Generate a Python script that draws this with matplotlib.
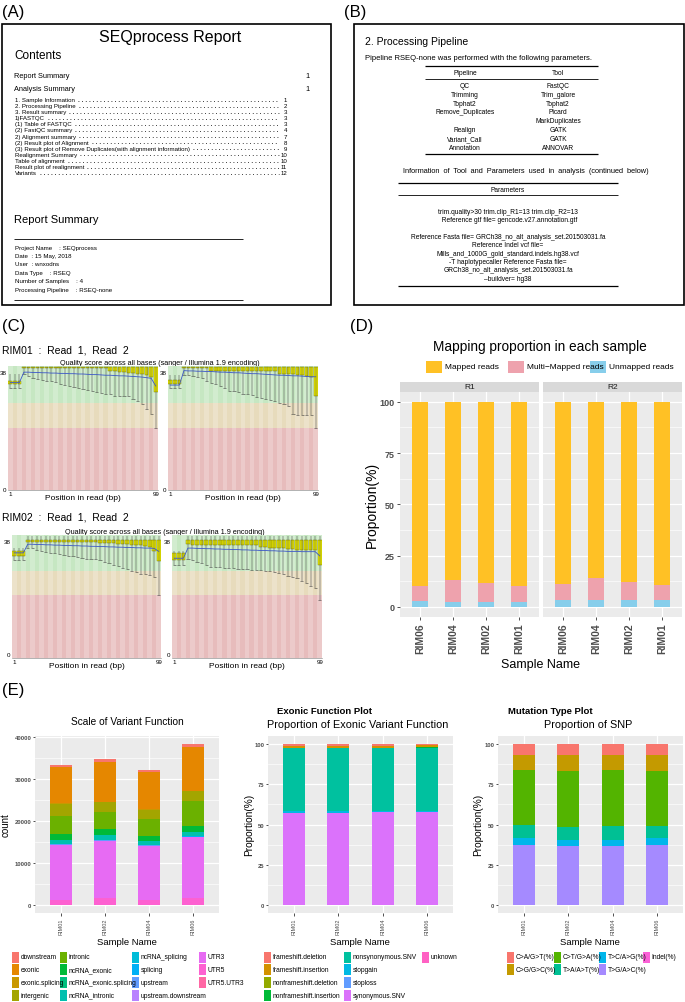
import numpy as np
import matplotlib
matplotlib.use('Agg')
import matplotlib.pyplot as plt
from matplotlib.patches import Rectangle

plt.rcParams['font.family'] = ['Liberation Sans', 'DejaVu Sans']

# ---------------- (A) report page
toc_items = ["1. Sample Information", "2. Processing Pipeline", "3. Result summary", "1)FASTQC",
             "(1) Table of FASTQC", "(2) FastQC summary", "2) Alignment summary",
             "(2) Result plot of Alignment",
             "(3) Result plot of Remove Duplicates(with alignment information)",
             "Realignment Summary", "Table of alignment", "Result plot of realignment", "Variants"]
toc_pages = ["1", "2", "3", "3", "3", "4", "7", "8", "9", "10", "10", "11", "12"]
summary_lines = ["Project Name    : SEQprocess", "Date  : 15 May, 2018", "User  : wnxodns",
                 "Data Type    : RSEQ", "Number of Samples    : 4",
                 "Processing Pipeline    : RSEQ-none"]

# ---------------- (B) pipeline page
pipe_steps = ["QC", "Trimming", "Tophat2", "Remove_Duplicates", "", "Realign", "Variant_Call", "Annotation"]
pipe_tools = ["FastQC", "Trim_galore", "Tophat2", "Picard", "MarkDuplicates", "GATK", "GATK", "ANNOVAR"]
param_lines = ["trim.quality>30 trim.clip_R1=13 trim.clip_R2=13",
               "  Reference gtf file= gencode.v27.annotation.gtf", "",
               "Reference Fasta file= GRCh38_no_alt_analysis_set.201503031.fa",
               "Reference Indel vcf file=",
               "Mills_and_1000G_gold_standard.indels.hg38.vcf",
               "-T haplotypecaller Reference Fasta file=",
               "GRCh38_no_alt_analysis_set.201503031.fa",
               "\u2013buildver= hg38"]

# ---------------- (C) per base quality (33 bins of 3 bp), RIM01 R1/R2, RIM02 R1/R2
q_whisk_lo = [
    [33.0, 33.0, 33.0, 37.3, 36.8, 36.2, 35.8, 35.5, 35.2, 35.0, 34.8, 34.1, 33.8, 33.5, 33.2, 33.0,
     32.5, 32.2, 31.9, 31.6, 31.3, 31.0, 30.9, 30.3, 30.3, 30.3, 30.3, 29.2, 28.5, 27.5, 26.0, 24.4, 20.0],
    [33.0, 33.0, 33.0, 37.2, 37.0, 36.8, 36.5, 36.2, 35.0, 34.5, 34.0, 33.5, 33.0, 32.0, 31.8, 31.5,
     31.0, 30.8, 30.5, 30.0, 29.5, 29.2, 29.0, 28.5, 28.0, 27.5, 27.0, 24.5, 24.2, 24.0, 24.0, 24.0, 20.0],
    [31.5, 31.5, 31.5, 35.8, 35.5, 35.0, 34.6, 34.3, 34.1, 34.0, 33.5, 33.2, 33.0, 32.8, 32.5, 32.3,
     32.1, 32.0, 31.8, 31.7, 31.0, 30.5, 30.0, 29.5, 29.0, 28.5, 28.0, 27.7, 27.0, 26.8, 26.5, 26.0, 19.7],
    [30.0, 30.0, 30.0, 32.0, 31.5, 31.0, 30.5, 30.0, 29.4, 29.3, 29.2, 29.0, 28.9, 28.8, 28.7, 28.6,
     28.5, 28.4, 28.3, 28.3, 28.0, 27.8, 27.5, 27.2, 26.8, 26.4, 26.0, 25.6, 24.4, 23.8, 23.0, 22.2, 18.3],
]
q_box_lo = [
    [34.0, 34.0, 34.0, 39.2, 39.2, 39.2, 39.2, 39.2, 39.2, 39.2, 39.2, 39.2, 39.2, 39.2, 39.2, 39.2,
     39.2, 39.2, 39.2, 39.2, 39.2, 39.2, 38.5, 38.3, 38.0, 38.0, 37.8, 37.6, 37.5, 37.3, 37.0, 36.5, 31.5],
    [34.2, 34.2, 34.2, 39.2, 39.2, 39.2, 39.2, 39.2, 39.2, 38.5, 38.5, 38.5, 38.5, 38.5, 38.5, 38.5,
     38.5, 38.5, 38.5, 38.5, 38.5, 38.5, 38.5, 38.5, 37.5, 37.5, 37.3, 37.3, 37.0, 37.0, 36.8, 36.5, 30.3],
    [33.0, 33.0, 33.0, 37.5, 37.5, 37.5, 37.6, 37.6, 37.6, 37.6, 37.6, 37.6, 37.6, 37.6, 37.6, 37.6,
     37.6, 37.6, 37.6, 37.3, 37.3, 37.2, 37.2, 37.0, 37.0, 37.0, 36.8, 36.8, 36.5, 36.3, 36.0, 34.6, 31.3],
    [31.7, 31.7, 31.7, 37.0, 36.8, 36.8, 36.7, 36.7, 36.7, 36.6, 36.6, 36.6, 36.5, 36.5, 36.5, 36.5,
     36.5, 36.5, 36.5, 36.0, 36.0, 35.8, 35.8, 35.5, 35.5, 35.3, 35.2, 35.0, 35.0, 34.9, 34.9, 34.9, 30.0],
]
q_mean = [
    [34.6, 34.6, 34.6, 38.0, 38.0, 37.9, 37.9, 37.8, 37.8, 37.7, 37.7, 37.6, 37.6, 37.5, 37.5, 37.4,
     37.4, 37.3, 37.2, 37.2, 37.1, 37.0, 37.0, 36.9, 36.8, 36.8, 36.7, 36.6, 36.5, 36.4, 36.2, 36.0, 33.5],
    [33.8, 33.8, 33.8, 38.5, 38.4, 38.4, 38.3, 38.3, 38.2, 38.2, 38.1, 38.0, 38.0, 37.9, 37.8, 37.8,
     37.7, 37.6, 37.5, 37.5, 37.4, 37.3, 37.2, 37.1, 37.0, 37.0, 36.9, 36.8, 36.8, 36.7, 36.6, 36.5, 36.5],
    [34.0, 34.0, 34.0, 36.9, 36.9, 36.8, 36.8, 36.7, 36.7, 36.6, 36.6, 36.5, 36.5, 36.4, 36.4, 36.3,
     36.3, 36.2, 36.2, 36.1, 36.1, 36.0, 36.0, 35.9, 35.9, 35.8, 35.8, 35.7, 35.7, 35.6, 35.6, 35.5, 34.5],
    [32.2, 32.2, 32.2, 35.6, 35.6, 35.5, 35.5, 35.4, 35.4, 35.3, 35.3, 35.2, 35.2, 35.1, 35.1, 35.0,
     35.0, 34.9, 34.9, 34.8, 34.8, 34.7, 34.7, 34.6, 34.6, 34.5, 34.5, 34.5, 34.4, 34.4, 34.4, 34.4, 33.0],
]
q_head_box_hi = [35.2, 35.4, 34.5, 33.9]
q_head_whisk_hi = [37.3, 37.0, 35.5, 34.5]
q_box_top = [39.8, 39.8, 38.3, 38.3]
q_whisk_top = 39.8
q_head_bins = 3

# ---------------- (D) mapping proportion
map_samples = ["RIM06", "RIM04", "RIM02", "RIM01"]
r1_unmapped = [2.8, 2.3, 2.3, 2.5]
r1_multi = [7.4, 10.7, 9.2, 7.7]
r1_mapped = [89.8, 87.0, 88.5, 89.8]
r2_unmapped = [3.5, 3.2, 3.2, 3.2]
r2_multi = [7.5, 10.6, 9.1, 7.6]
r2_mapped = [89.0, 86.2, 87.7, 89.2]

# ---------------- (E) variant plots
var_samples = ["RIM01", "RIM02", "RIM04", "RIM06"]
func_names = ["downstream", "exonic", "exonic.splicing", "intergenic", "intronic", "ncRNA_exonic",
              "ncRNA_exonic.splicing", "ncRNA_intronic", "ncRNA_splicing", "splicing", "upstream",
              "upstream.downstream", "UTR3", "UTR5", "UTR5.UTR3"]
func_counts = [
    [640, 630, 640, 800],
    [8600, 9640, 8840, 10420],
    [60, 60, 60, 70],
    [3020, 2230, 2230, 2230],
    [4220, 4060, 4130, 6040],
    [1340, 1490, 1030, 1340],
    [10, 10, 10, 10],
    [970, 1130, 1000, 1110],
    [30, 30, 30, 30],
    [60, 60, 50, 70],
    [120, 130, 110, 140],
    [10, 10, 10, 10],
    [13200, 13750, 12960, 14550],
    [1190, 1590, 1190, 1590],
    [5, 5, 5, 5],
]
exo_names = ["frameshift.deletion", "frameshift.insertion", "nonframeshift.deletion",
             "nonframeshift.insertion", "nonsynonymous.SNV", "stopgain", "stoploss",
             "synonymous.SNV", "unknown"]
exo_pct = [
    [1.0, 1.0, 1.0, 0.8],
    [1.3, 1.3, 1.2, 0.9],
    [0.2, 0.2, 0.2, 0.3],
    [0.1, 0.1, 0.1, 0.3],
    [39.3, 39.2, 39.0, 39.2],
    [0.8, 0.8, 0.8, 0.7],
    [0.1, 0.1, 0.1, 0.1],
    [57.2, 57.3, 57.6, 57.7],
    [0.0, 0.0, 0.0, 0.0],
]
snp_names = ["C>A/G>T(%)", "C>G/G>C(%)", "C>T/G>A(%)", "T>A/A>T(%)", "T>C/A>G(%)", "T>G/A>C(%)", "Indel(%)"]
snp_pct = [
    [6.7, 7.0, 6.7, 6.7],
    [9.3, 9.7, 9.3, 9.8],
    [34.0, 34.8, 35.0, 34.5],
    [8.5, 8.0, 8.5, 7.5],
    [4.0, 4.0, 4.0, 4.0],
    [37.5, 36.5, 36.5, 37.5],
    [0.0, 0.0, 0.0, 0.0],
]

hue15 = ["#F8766D", "#E58700", "#C99800", "#A3A500", "#6BB100", "#00BA38", "#00BF7D", "#00C0AF",
         "#00BCD8", "#00B0F6", "#619CFF", "#B983FF", "#E76BF3", "#FD61D1", "#FF67A4"]
hue9 = ["#F8766D", "#D39200", "#93AA00", "#00BA38", "#00C19F", "#00B9E3", "#619CFF", "#DB72FB", "#FF61C3"]
hue7 = ["#F8766D", "#C49A00", "#53B400", "#00C094", "#00B6EB", "#A58AFF", "#FB61D7"]
map_colors = {"Mapped reads": "#FFC125", "Multi\u2212Mapped reads": "#EEA2AD", "Unmapped reads": "#87CEEB"}

W, H = 685, 1003
fig = plt.figure(figsize=(W / 100, H / 100), dpi=100)
bg = fig.add_axes([0, 0, 1, 1])
bg.set_xlim(0, W)
bg.set_ylim(H, 0)
bg.axis('off')


def px_axes(x0, y0, x1, y1):
    return fig.add_axes([x0 / W, 1 - y1 / H, (x1 - x0) / W, (y1 - y0) / H])


def txt(x, y, s, size, **kw):
    kw.setdefault('va', 'center')
    return bg.text(x, y, s, fontsize=size, **kw)


def hline(x0, x1, y, lw):
    bg.plot([x0, x1], [y, y], color='black', lw=lw, solid_capstyle='butt')


# panel letters
for lab, x, y in [("(A)", 2, 12), ("(B)", 344, 12), ("(C)", 2, 326), ("(D)", 350, 326), ("(E)", 2, 690)]:
    txt(x, y, lab, 12)

# ---- (A)
bg.add_patch(Rectangle((2.5, 24.5), 329, 281, fill=False, lw=1.2, ec='black'))
txt(170, 37, "SEQprocess Report", 11.5, ha='center')
txt(14, 56, "Contents", 8.5)
txt(14, 76, "Report Summary", 5.3)
txt(305, 76, "1", 5.3)
txt(14, 89, "Analysis Summary", 5.3)
txt(305, 89, "1", 5.3)
toc_y = np.linspace(100.5, 173.5, len(toc_items))
renderer = fig.canvas.get_renderer()
inv = bg.transData.inverted()
for name, page, y in zip(toc_items, toc_pages, toc_y):
    t = txt(15, y, name, 4.4)
    txt(287, y, page, 4.4, ha='right')
    bb = t.get_window_extent(renderer=renderer)
    xe = inv.transform((bb.x1, bb.y0))[0]
    bg.plot([xe + 3, 279], [y + 1.2, y + 1.2], color='black', lw=0.6, ls=(0, (1, 3.4)))
txt(14, 220, "Report Summary", 8)
hline(14, 243, 239.5, 0.6)
for i, line in enumerate(summary_lines):
    txt(15, 248 + 8.4 * i, line, 4.4)
hline(14, 243, 300.5, 0.6)

# ---- (B)
bg.add_patch(Rectangle((354, 24.5), 330, 281, fill=False, lw=1.2, ec='black'))
txt(365, 42, "2. Processing Pipeline", 7.5)
txt(365, 58, "Pipeline RSEQ-none was performed with the following parameters.", 5.5)
hline(425, 598, 66.7, 0.9)
txt(465, 73, "Pipeline", 4.8, ha='center')
txt(558, 73, "Tool", 4.8, ha='center')
hline(425, 598, 80, 0.6)
for i, (st, tl) in enumerate(zip(pipe_steps, pipe_tools)):
    y = 86.5 + 8.8 * i
    txt(465, y, st, 4.8, ha='center')
    txt(558, y, tl, 4.8, ha='center')
hline(425, 598, 155, 0.9)
txt(526, 171, "Information  of  Tool  and  Parameters  used  in  analysis  (continued  below)", 5.3, ha='center')
hline(398, 618, 184, 0.9)
txt(508, 190, "Parameters", 4.8, ha='center')
hline(398, 618, 196, 0.6)
for i, line in enumerate(param_lines):
    txt(508, 212 + 8.4 * i, line, 4.8, ha='center')
hline(398, 618, 287, 0.9)

# ---- (C)


def fastqc_panel(box, ymin, k):
    ax = px_axes(*box)
    wlo = np.array(q_whisk_lo[k])
    blo = np.array(q_box_lo[k])
    mean = np.array(q_mean[k])
    n = len(wlo)
    pos = np.arange(1, n + 1)
    bhi = np.where(pos <= q_head_bins, q_head_box_hi[k], q_box_top[k])
    whi = np.where(pos <= q_head_bins, q_head_whisk_hi[k], q_whisk_top)
    ax.axhspan(28, 40, color='#C6E7C2', lw=0)
    ax.axhspan(20, 28, color='#E7DBBC', lw=0)
    ax.axhspan(ymin, 20, color='#E7BCBC', lw=0)
    for p in pos[::2]:
        ax.axvspan(p - 0.5, p + 0.5, color='white', alpha=0.22, lw=0)
    ax.vlines(pos, wlo, whi, color='#3C3C3C', lw=0.35)
    ax.hlines(wlo, pos - 0.35, pos + 0.35, color='#3C3C3C', lw=0.4)
    ax.bar(pos, bhi - blo, bottom=blo, width=0.8, color='#EEEE00', edgecolor='#6A6A00', lw=0.3)
    ax.plot(pos, mean, color='#3A56C8', lw=0.6)
    ax.set_xlim(0.5, n + 0.5)
    ax.set_ylim(ymin, 40)
    ax.set_yticks([0, 38])
    ax.set_yticklabels(['0', '38'], fontsize=4.5)
    ax.set_xticks([1, n])
    ax.set_xticklabels(['1', '99'], fontsize=4.5)
    ax.tick_params(length=0, pad=1)
    for s in ['top', 'right', 'left']:
        ax.spines[s].set_visible(False)
    ax.spines['bottom'].set_linewidth(0.4)
    ax.spines['bottom'].set_color('#777777')
    ax.set_xlabel("Position in read (bp)", fontsize=6, labelpad=-2)
    return ax


txt(2, 350, "RIM01  :  Read  1,  Read  2", 7.5)
txt(160, 363.5, "Quality score across all bases (sanger / Illumina 1.9 encoding)", 5.2, ha='center')
fastqc_panel((8, 367, 158, 491), -0.3, 0)
fastqc_panel((168, 367, 318, 491), -0.3, 1)
txt(2, 518, "RIM02  :  Read  1,  Read  2", 7.5)
txt(165, 532, "Quality score across all bases (sanger / Illumina 1.9 encoding)", 5.2, ha='center')
fastqc_panel((12, 536, 161, 659), -1.3, 2)
fastqc_panel((172, 536, 322, 659), -1.3, 3)

# ---- (D)


def gg_style(ax, label_size, tick_len):
    ax.set_facecolor('#EBEBEB')
    for s in ax.spines.values():
        s.set_visible(False)
    ax.grid(True, which='major', color='white', lw=0.9)
    ax.grid(True, which='minor', axis='y', color='white', lw=0.45)
    ax.set_axisbelow(True)
    ax.tick_params(which='major', length=tick_len, width=0.6, color='#333333', pad=1.2,
                   labelsize=label_size, labelcolor='#4D4D4D')
    ax.tick_params(which='minor', length=0)


txt(540, 347, "Mapping proportion in each sample", 9.8, ha='center')
leg_x = [426, 508, 590]
for (name, col), lx in zip(map_colors.items(), leg_x):
    bg.add_patch(Rectangle((lx, 362), 16, 11.5, color=col, lw=0))
    txt(lx + 19, 367.8, name, 6)

xs = np.arange(1, 5)
for k, (x0, x1, lab, unm, mul, mp) in enumerate([
        (400, 539, "R1", r1_unmapped, r1_multi, r1_mapped),
        (543, 682, "R2", r2_unmapped, r2_multi, r2_mapped)]):
    bg.add_patch(Rectangle((x0, 383), x1 - x0, 9.5, color='#D9D9D9', lw=0))
    txt((x0 + x1) / 2, 387.8, lab, 6, ha='center', color='#1A1A1A')
    ax = px_axes(x0, 392.5, x1, 618)
    gg_style(ax, 6.5, 2.5)
    ax.bar(xs, unm, 0.5, color=map_colors["Unmapped reads"])
    ax.bar(xs, mul, 0.5, bottom=unm, color=map_colors["Multi\u2212Mapped reads"])
    ax.bar(xs, mp, 0.5, bottom=np.add(unm, mul), color=map_colors["Mapped reads"])
    ax.set_xlim(0.4, 4.6)
    ax.set_ylim(-5, 105)
    ax.set_yticks([0, 25, 50, 75, 100])
    ax.set_yticks([12.5, 37.5, 62.5, 87.5], minor=True)
    ax.set_xticks(xs)
    ax.set_xticklabels(map_samples, rotation=90, fontsize=7.5, fontweight='bold')
    if k == 0:
        ax.set_yticklabels(['0', '25', '50', '75', '100'], fontweight='bold')
    else:
        ax.tick_params(axis='y', length=0, labelleft=False)
txt(372, 505, "Proportion(%)", 10, ha='center', rotation=90)
txt(541, 665, "Sample Name", 9, ha='center')

# ---- (E)


def stacked_panel(box, names, values, colors, ylim, yticks, ytl, minor):
    ax = px_axes(*box)
    gg_style(ax, 4.2, 1.8)
    bottom = np.zeros(len(var_samples))
    for name, vals, col in reversed(list(zip(names, values, colors))):
        ax.bar(xs, vals, 0.5, bottom=bottom, color=col, lw=0)
        bottom = bottom + np.array(vals)
    ax.set_xlim(0.4, 4.6)
    ax.set_ylim(*ylim)
    ax.set_yticks(yticks)
    ax.set_yticklabels(ytl, fontweight='bold')
    ax.set_yticks(minor, minor=True)
    ax.tick_params(axis='y', pad=0.8)
    ax.set_xticks(xs)
    ax.set_xticklabels(var_samples, rotation=90, fontsize=4)
    return ax


stacked_panel((35, 737, 219, 914), func_names, func_counts, hue15, (-1920, 40336),
              [0, 10000, 20000, 30000, 40000], ['0', '10000', '20000', '30000', '40000'],
              [5000, 15000, 25000, 35000])
stacked_panel((268, 737, 453, 914), exo_names, exo_pct, hue9, (-5, 105),
              [0, 25, 50, 75, 100], ['0', '25', '50', '75', '100'], [12.5, 37.5, 62.5, 87.5])
stacked_panel((498, 737, 683, 914), snp_names, snp_pct, hue7, (-5, 105),
              [0, 25, 50, 75, 100], ['0', '25', '50', '75', '100'], [12.5, 37.5, 62.5, 87.5])

txt(127, 722, "Scale of Variant Function", 7.3, ha='center')
txt(277, 711, "Exonic Function Plot", 6.8, fontweight='bold')
txt(358, 725, "Proportion of Exonic Variant Function", 7.8, ha='center')
txt(508, 711, "Mutation Type Plot", 6.8, fontweight='bold')
txt(588, 725, "Proportion of SNP", 7.8, ha='center')
txt(6, 825, "count", 7, ha='center', rotation=90)
txt(249, 825, "Proportion(%)", 7.3, ha='center', rotation=90)
txt(478, 825, "Proportion(%)", 7.3, ha='center', rotation=90)
for cx in [127, 360, 590]:
    txt(cx, 943, "Sample Name", 6.8, ha='center')


def legend_block(names, colors, col_x, nrows):
    for i, (name, col) in enumerate(zip(names, colors)):
        c, r = divmod(i, nrows)
        y = 958 + 12.7 * r
        bg.add_patch(Rectangle((col_x[c], y - 5.5), 7, 11, color=col, lw=0))
        txt(col_x[c] + 8.5, y, name, 4.8)


legend_block(func_names, hue15, [12, 60, 132, 199], 4)
legend_block(exo_names, hue9, [264, 344, 422], 4)
legend_block(snp_names, hue7, [507, 554, 599, 643], 2)

fig.savefig('out.png', dpi=100)
